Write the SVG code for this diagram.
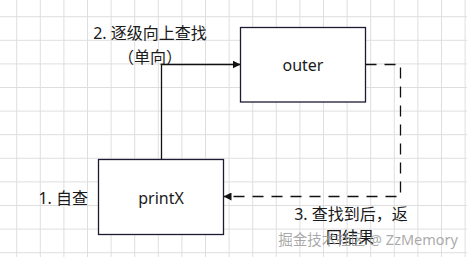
<svg xmlns="http://www.w3.org/2000/svg" width="467" height="257" viewBox="0 0 467 257">
  <defs>
    <pattern id="grid" patternUnits="userSpaceOnUse" x="16.2" y="16.2" width="23.6" height="23.6">
      <path d="M0.5 0 V23.6 M0 0.5 H23.6" fill="none" stroke="#dedede" stroke-width="1"/>
    </pattern>
    <marker id="arrow" viewBox="0 0 8 8" refX="8" refY="4" markerWidth="8" markerHeight="8" markerUnits="userSpaceOnUse" orient="auto">
      <path d="M0 0 L8 4 L0 8 Z" fill="#111"/>
    </marker>
  </defs>
  <style>
    .box { fill: #ffffff; stroke: #1b1b33; stroke-width: 1.3; }
    .conn { fill: none; stroke: #111; stroke-width: 1.3; }
    .dash { stroke-dasharray: 11 8; }
    .t { font-family: "Noto Sans", "Noto Sans CJK SC", sans-serif; font-size: 16px; fill: #1a1a1a; }
    .wm { font-family: "Noto Sans", "Noto Sans CJK SC", sans-serif; font-size: 14.5px; fill: #9a9a9a; fill-opacity: 0.85; }
  </style>
  <rect width="467" height="257" fill="#ffffff"/>
  <rect width="467" height="257" fill="url(#grid)"/>

  <g id="connectors">
    <path class="conn" d="M161.5 159.5 V64.5 H240.5" marker-end="url(#arrow)"/>
    <path class="conn dash" d="M365.5 64.5 H400.5 V196.5 H223.5" marker-end="url(#arrow)"/>
  </g>

  <g id="outer">
    <rect class="box" x="240.5" y="27.5" width="125" height="74.5"/>
    <text class="t" x="303" y="71" text-anchor="middle">outer</text>
  </g>

  <g id="printX">
    <rect class="box" x="98.5" y="159.5" width="125" height="75"/>
    <text class="t" x="161" y="203.5" text-anchor="middle">printX</text>
  </g>

  <g id="labels">
    <text class="t" x="150" y="38.5" text-anchor="middle">2. 逐级向上查找</text>
    <text class="t" x="150" y="63" text-anchor="middle">（单向）</text>
    <text class="t" x="88" y="203.5" text-anchor="end">1. 自查</text>
    <text class="t" x="351" y="219.5" text-anchor="middle">3. 查找到后，返</text>
    <text class="t" x="350" y="243" text-anchor="middle">回结果</text>
  </g>

  <text class="wm" x="458" y="245" text-anchor="end">掘金技术社区 @ ZzMemory</text>
</svg>
